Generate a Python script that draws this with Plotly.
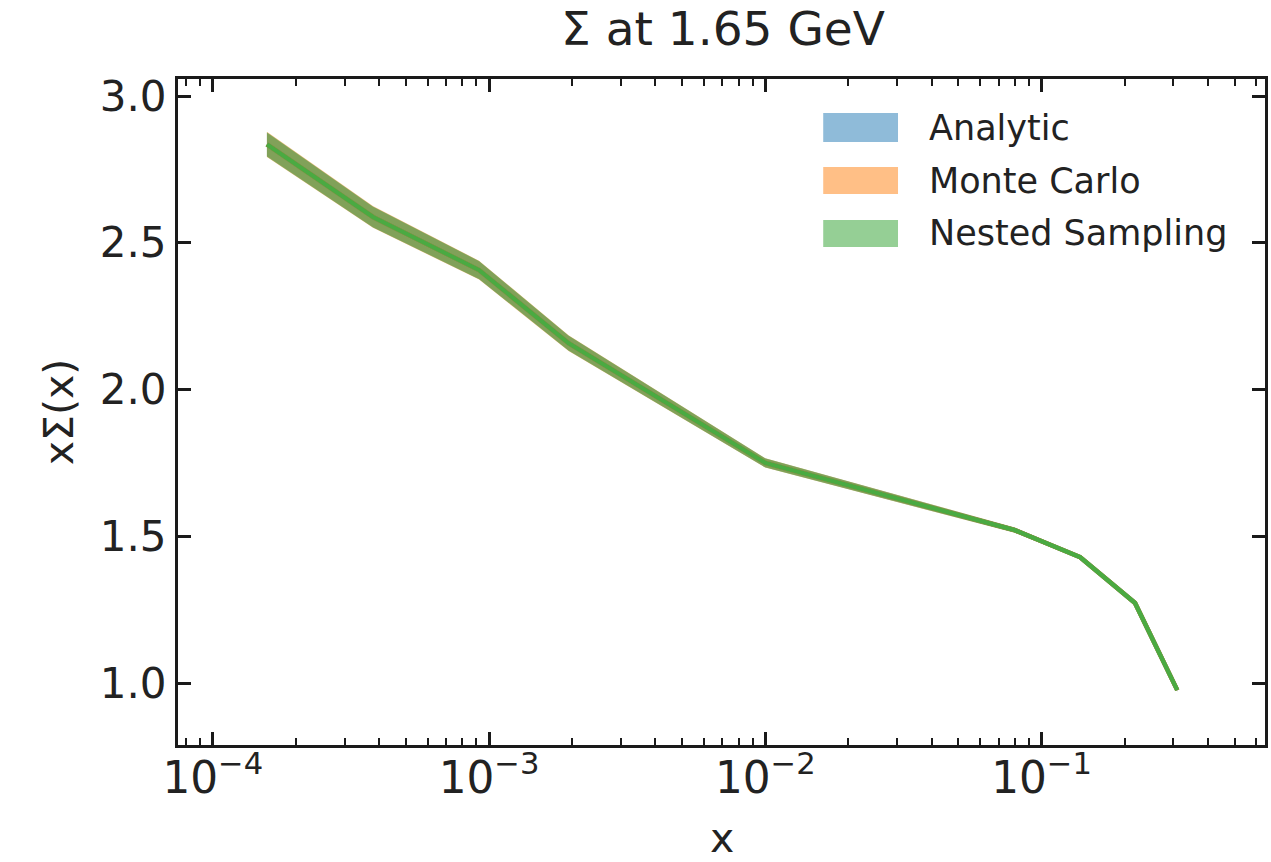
import plotly.graph_objects as go

# x grid (momentum fraction) and central values of xΣ(x) at Q = 1.65 GeV
x_grid = [1.57e-4, 3.8e-4, 9.2e-4, 1.94e-3, 1.0e-2, 8.0e-2, 0.138, 0.218, 0.31]
sigma_central = [2.835, 2.588, 2.407, 2.158, 1.750, 1.521, 1.429, 1.273, 0.976]

# 1-sigma uncertainties for each fitting method
err_analytic = [0.040, 0.035, 0.030, 0.025, 0.015, 0.008, 0.006, 0.005, 0.005]
err_montecarlo = [0.043, 0.037, 0.032, 0.027, 0.016, 0.009, 0.006, 0.005, 0.005]
err_nested = [0.042, 0.036, 0.031, 0.026, 0.016, 0.009, 0.006, 0.005, 0.005]

methods = ["Analytic", "Monte Carlo", "Nested Sampling"]
errors = [err_analytic, err_montecarlo, err_nested]
line_colors = ["#1f77b4", "#ff7f0e", "#4aaa42"]
fill_colors = ["rgba(31,119,180,0.45)", "rgba(255,127,14,0.45)", "rgba(44,160,44,0.45)"]
legend_colors = ["#8fbbd9", "#ffbf86", "#95cf95"]

W, H = 1271, 862
L, R, T, B = 178, 3, 79, 117
FONT = "DejaVu Sans"
TXT = "#222222"

fig = go.Figure()

for name, err, fc in zip(methods, errors, fill_colors):
    upper = [c + e for c, e in zip(sigma_central, err)]
    lower = [c - e for c, e in zip(sigma_central, err)]
    fig.add_trace(go.Scatter(x=x_grid, y=lower, mode="lines", line=dict(width=0),
                             showlegend=False, hoverinfo="skip"))
    fig.add_trace(go.Scatter(x=x_grid, y=upper, mode="lines", line=dict(width=0),
                             fill="tonexty", fillcolor=fc, name=name, showlegend=False))

for name, lc in zip(methods, line_colors):
    fig.add_trace(go.Scatter(x=x_grid, y=sigma_central, mode="lines",
                             line=dict(color=lc, width=4.5), showlegend=False,
                             name=name))

# legend drawn as filled patches with labels (top-right corner of the axes)
pw = W - L - R
ph = H - T - B
def px_x(p):
    return (p - L) / pw
def px_y(p):
    return (H - B - p) / ph

patch_rows = [(113, 142), (167, 194), (220, 247)]
shapes = []
annotations = []
for (y0, y1), name, col in zip(patch_rows, methods, legend_colors):
    shapes.append(dict(type="rect", xref="paper", yref="paper",
                       x0=px_x(825), x1=px_x(900), y0=px_y(y1), y1=px_y(y0),
                       fillcolor=col, line=dict(width=0), layer="above"))
    annotations.append(dict(xref="paper", yref="paper", x=px_x(929), y=px_y((y0 + y1) / 2),
                            text=name, showarrow=False, xanchor="left", yanchor="middle",
                            font=dict(family=FONT, size=35, color=TXT)))

# x-axis title placed just below the tick labels
annotations.append(dict(xref="paper", yref="paper", x=0.5, y=px_y(838),
                        text="x", showarrow=False, xanchor="center", yanchor="middle",
                        font=dict(family=FONT, size=41, color=TXT)))

axis_common = dict(
    showline=True, linewidth=3, linecolor="#1a1a1a", mirror="allticks",
    ticks="inside", ticklen=13, tickwidth=2.5, tickcolor="#1a1a1a",
    showgrid=False, zeroline=False,
)

fig.update_layout(
    width=W, height=H,
    margin=dict(l=L, r=R, t=T, b=B),
    paper_bgcolor="white", plot_bgcolor="white",
    title=dict(text="Σ at 1.65 GeV", x=(L + (W - R)) / 2 / W, xanchor="center",
               y=1 - 29 / H, yanchor="middle",
               font=dict(family=FONT, size=47, color=TXT)),
    xaxis=dict(type="log", range=[-4.126, -0.191], dtick=1, exponentformat="power",
               tickfont=dict(family=FONT, size=35, color=TXT), ticklabelstandoff=-6,
               minor=dict(ticks="inside", ticklen=7, tickwidth=2, tickcolor="#1a1a1a",
                          dtick="D1", showgrid=False),
               **axis_common),
    yaxis=dict(range=[0.789, 3.058], tickvals=[1.0, 1.5, 2.0, 2.5, 3.0], tickformat=".1f",
               tickfont=dict(family=FONT, size=42, color=TXT),
               title=dict(text="xΣ(x)", font=dict(family=FONT, size=41, color=TXT), standoff=14),
               **axis_common),
    shapes=shapes,
    annotations=annotations,
)

fig.write_html("out.html")
